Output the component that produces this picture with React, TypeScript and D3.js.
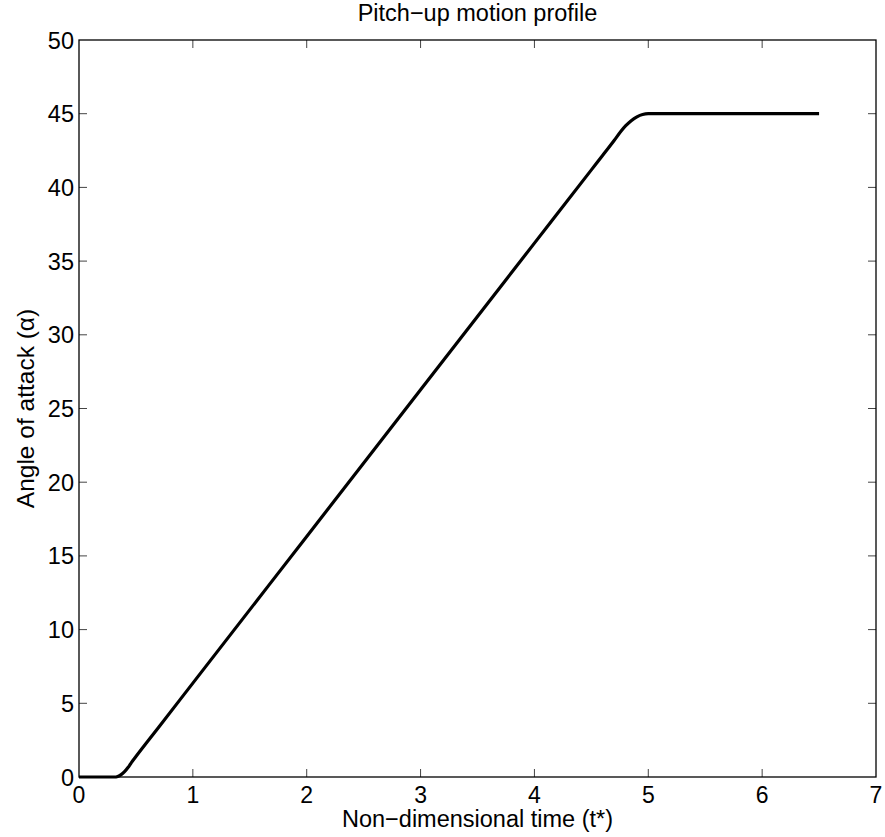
import React from "react";
import * as d3 from "d3";

const timeValues = [0, 0.31, 0.34, 0.37, 0.4, 0.43, 0.46, 0.5, 0.6, 0.7, 1.0, 2.0, 3.0, 4.0, 4.5, 4.6, 4.7, 4.76, 4.8, 4.85, 4.9, 4.95, 5.0, 5.5, 6.0, 6.5];
const alphaValues = [0, 0, 0.04, 0.16, 0.36, 0.64, 0.98, 1.39, 2.39, 3.38, 6.37, 16.32, 26.27, 36.22, 41.19, 42.18, 43.18, 43.81, 44.17, 44.53, 44.79, 44.95, 45, 45, 45, 45];
const xTicks = [0, 1, 2, 3, 4, 5, 6, 7];
const yTicks = [0, 5, 10, 15, 20, 25, 30, 35, 40, 45, 50];

const W = 885, H = 837;
const M = { left: 79, right: 9, top: 40, bottom: 60 };

export default function App() {
  const x = d3.scaleLinear().domain([0, 7]).range([M.left, W - M.right]);
  const y = d3.scaleLinear().domain([0, 50]).range([H - M.bottom, M.top]);
  const pts = timeValues.map((t, i) => [t, alphaValues[i]] as [number, number]);
  const line = d3.line<[number, number]>().x(d => x(d[0])).y(d => y(d[1])).curve(d3.curveMonotoneX);
  const font = "'Liberation Sans', Arial, sans-serif";
  const x0 = x(0), x1 = x(7), y0 = y(0), y1 = y(50);
  const tl = 8;
  return (
    <svg width={W} height={H} style={{ position: "absolute", left: 0, top: 0, background: "#fff" }} fontFamily={font}>
      <rect x={0} y={0} width={W} height={H} fill="#fff" />
      {xTicks.map(t => (
        <g key={"x" + t}>
          {t > 0 && t < 7 && <line x1={x(t)} x2={x(t)} y1={y0} y2={y0 - tl} stroke="#444" strokeWidth={1} />}
          {t > 0 && t < 7 && <line x1={x(t)} x2={x(t)} y1={y1} y2={y1 + tl} stroke="#444" strokeWidth={1} />}
          <text x={x(t)} y={802.5} textAnchor="middle" fontSize={23} fill="#000">{t}</text>
        </g>
      ))}
      {yTicks.map(v => (
        <g key={"y" + v}>
          {v > 0 && v < 50 && <line x1={x0} x2={x0 + tl} y1={y(v)} y2={y(v)} stroke="#444" strokeWidth={1} />}
          {v > 0 && v < 50 && <line x1={x1} x2={x1 - tl} y1={y(v)} y2={y(v)} stroke="#444" strokeWidth={1} />}
          <text x={74} y={y(v) + 8.5} textAnchor="end" fontSize={23.5} fill="#000">{v}</text>
        </g>
      ))}
      <path d={line(pts) || ""} fill="none" stroke="#000" strokeWidth={3.2} />
      <rect x={x0} y={y1} width={x1 - x0} height={y0 - y1} fill="none" stroke="#000" strokeWidth={1.3} />
      <text x={(x0 + x1) / 2} y={21} textAnchor="middle" fontSize={23.5} fill="#000">Pitch−up motion profile</text>
      <text x={(x0 + x1) / 2} y={827} textAnchor="middle" fontSize={23.5} fill="#000">Non−dimensional time (t*)</text>
      <text transform={`translate(34, ${(y0 + y1) / 2}) rotate(-90)`} textAnchor="middle" fontSize={24.5} fill="#000">Angle of attack (α)</text>
    </svg>
  );
}
